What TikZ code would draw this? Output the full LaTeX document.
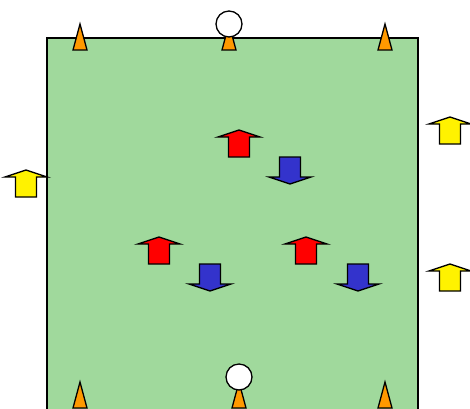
\documentclass[tikz,border=0pt]{standalone}
\usepackage{tikz}
\usepackage{xcolor}
\usetikzlibrary{arrows.meta,positioning}

\definecolor{pitch}{HTML}{A0D99C}
\definecolor{conecol}{HTML}{FF9900}
\definecolor{bluecol}{HTML}{3333CC}

\begin{document}
\begin{tikzpicture}[x=1pt,y=-1pt,line width=1.3pt,line join=miter]
  \clip (0,0) rectangle (470,408);
  \useasboundingbox (0,0) rectangle (470,408);
  \def\cone(#1,#2){
    \filldraw[draw=black,fill=conecol](#1-7,#2+26) -- (#1,#2) -- (#1+7,#2+26) -- cycle;
  }
  \def\ball(#1,#2){
    \filldraw[draw=black,fill=white](#1,#2) circle (13);
  }
  \def\arrowup(#1,#2)#3{
    \filldraw[draw=black,fill=#3](#1-10.5,#2+27) -- (#1-10.5,#2+7) -- (#1-21,#2+7)
      -- (#1,#2) -- (#1+21,#2+7) -- (#1+10.5,#2+7) -- (#1+10.5,#2+27) -- cycle;
  }
  \def\arrowdn(#1,#2)#3{
    \filldraw[draw=black,fill=#3](#1-10.5,#2) -- (#1-10.5,#2+20) -- (#1-21,#2+20)
      -- (#1,#2+27) -- (#1+21,#2+20) -- (#1+10.5,#2+20) -- (#1+10.5,#2) -- cycle;
  }
  % pitch
  \filldraw[draw=black,fill=pitch](47,38) rectangle (418,430);
  % cones and balls
  \foreach \x in {80,229,385} {
    \cone(\x,24)
  }
  \foreach \x in {80,239,385} {
    \cone(\x,382)
  }
  \ball(229,24)
  \ball(239,377)
  % players
  \foreach \x/\y in {239/130,159/237,306/237} {
    \arrowup(\x,\y){red}
  }
  \foreach \x/\y in {290/157,210/264,358/264} {
    \arrowdn(\x,\y){bluecol}
  }
  \foreach \x/\y in {26/170,450/117,450/264} {
    \arrowup(\x,\y){yellow}
  }
\end{tikzpicture}
\end{document}
